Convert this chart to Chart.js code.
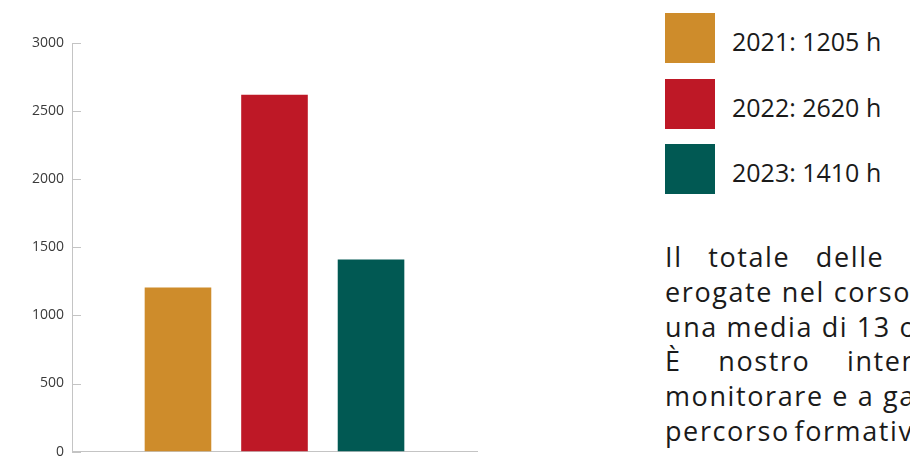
<!DOCTYPE html>
<html>
<head>
<meta charset="utf-8">
<script src="https://cdn.jsdelivr.net/npm/chart.js@4"></script>
<style>
  html, body { margin: 0; padding: 0; background: #fff; overflow: hidden; width: 910px; height: 456px; }
  #chartBox { position: absolute; left: 0; top: 0; width: 480px; height: 468px; }
  #legend { position: absolute; left: 665px; top: 13px; font-family: "Open Sans", sans-serif; }
  .item { position: relative; height: 50px; margin-bottom: 15.5px; }
  .swatch { position: absolute; left: 0; top: 0; width: 50px; height: 50px; }
  .label { position: absolute; left: 67px; top: 3px; font-size: 25px; line-height: 50px; color: #1a1a1a; white-space: nowrap; }
  #text { position: absolute; left: 665px; top: 240px; font-family: "Open Sans", sans-serif; font-size: 27px; letter-spacing: 1.6px; line-height: 34.8px; color: #1a1a1a; white-space: nowrap; }
</style>
</head>
<body>
<div id="chartBox"><canvas id="hoursChart"></canvas></div>
<div id="legend"></div>
<div id="text">
  <div style="word-spacing: 17px">Il totale delle ore di formazione</div>
  <div>erogate nel corso del 2023 sono</div>
  <div>una media di 13 ore per dipendente.</div>
  <div style="word-spacing: 28px">È nostro intento continuare a</div>
  <div>monitorare e a garantire a tutti un</div>
  <div style="word-spacing: -4px">percorso formativo adeguato.</div>
</div>
<script>
const years = ['2021', '2022', '2023'];
const hours = [1205, 2620, 1410];
const colors = ['#ce8c2b', '#be1826', '#015953'];
const yTicks = [0, 500, 1000, 1500, 2000, 2500, 3000];

// legend on the right
const legend = document.getElementById('legend');
years.forEach((y, i) => {
    legend.innerHTML += '<div class="item"><div class="swatch" style="background:' + colors[i] +
        '"></div><div class="label">' + y + ': ' + hours[i] + ' h</div></div>';
});

// short tick marks pointing into the plot
const innerTicks = {
    id: 'innerTicks',
    afterDraw(chart) {
        const s = chart.scales.y;
        const c = chart.ctx;
        c.save();
        c.strokeStyle = '#c4c4c4';
        c.lineWidth = 1;
        s.ticks.forEach((t, i) => {
            const py = Math.round(s.getPixelForTick(i)) + 0.5;
            c.beginPath();
            c.moveTo(s.right, py);
            c.lineTo(s.right + 9, py);
            c.stroke();
        });
        c.restore();
    }
};

const ctx = document.getElementById('hoursChart').getContext('2d');

new Chart(ctx, {
    type: 'bar',
    data: {
        labels: [''],
        datasets: years.map((y, i) => ({
            label: y,
            data: [hours[i]],
            backgroundColor: colors[i],
            categoryPercentage: 0.715,
            barPercentage: 0.69
        }))
    },
    options: {
        responsive: true,
        maintainAspectRatio: false,
        animation: false,
        layout: { padding: { top: 43, right: 3, bottom: 0 } },
        plugins: { legend: { display: false }, tooltip: { enabled: false } },
        scales: {
            x: {
                grid: { display: false, drawTicks: false },
                border: { color: '#c4c4c4', width: 1 },
                ticks: { display: false }
            },
            y: {
                min: 0,
                max: 3000,
                afterBuildTicks: (s) => { s.ticks = yTicks.map(v => ({ value: v })); },
                afterFit: (s) => { s.width = 72; },
                grid: { display: false, drawTicks: false },
                border: { color: '#c4c4c4', width: 1 },
                ticks: {
                    color: '#3a3a3a',
                    padding: 8,
                    font: { family: 'Open Sans', size: 14 },
                    callback: (v) => String(v)
                }
            }
        }
    },
    plugins: [innerTicks]
});
</script>
</body>
</html>
